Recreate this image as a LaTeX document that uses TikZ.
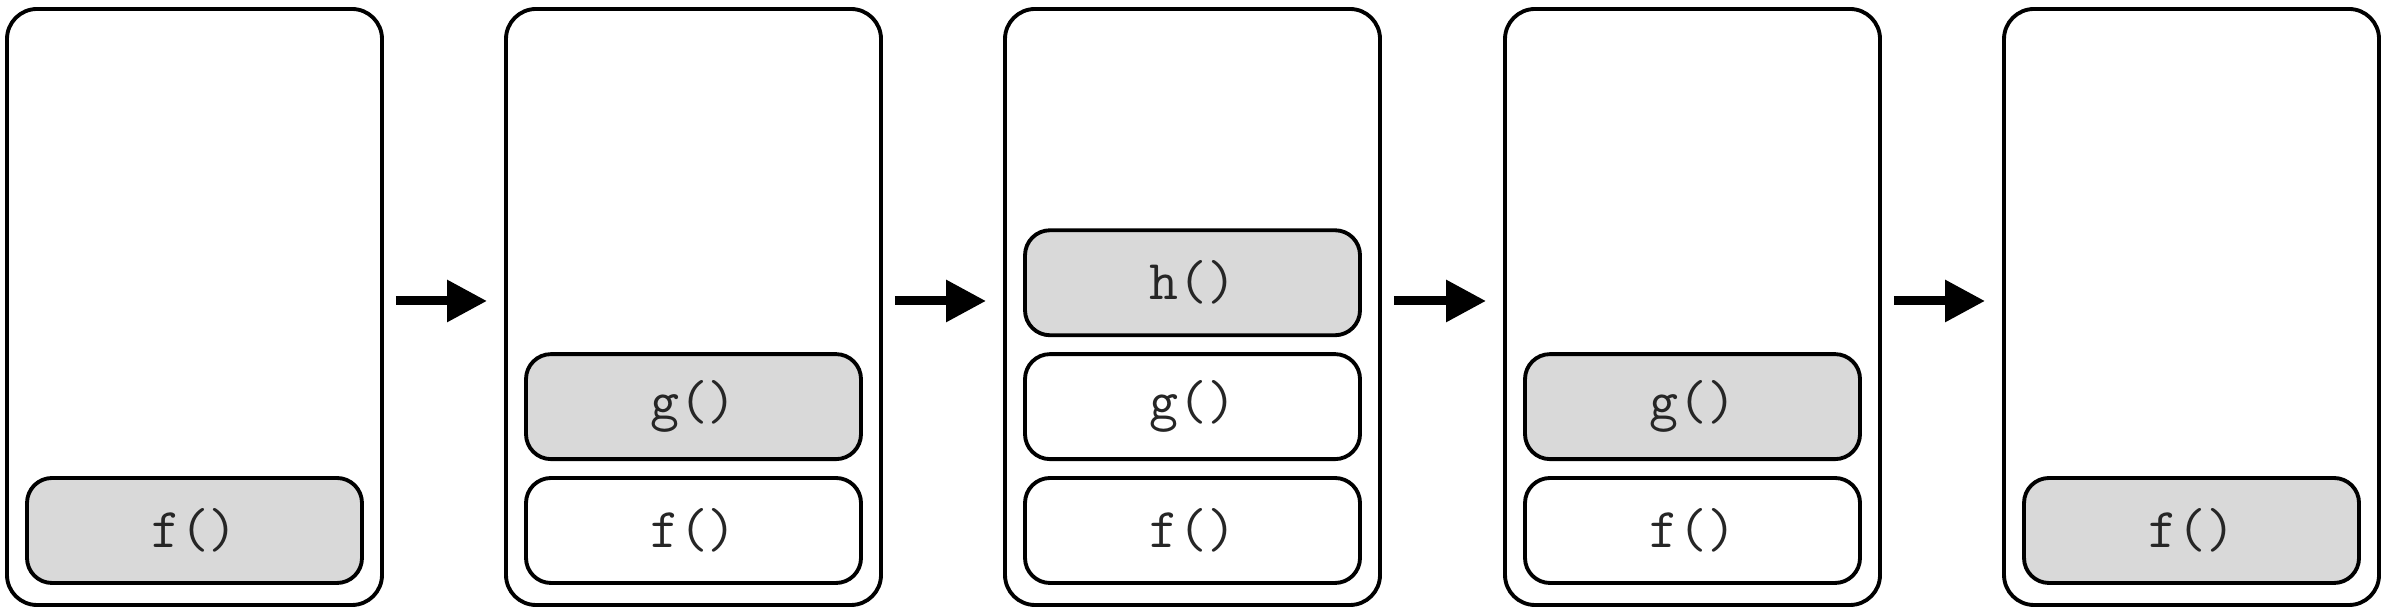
\documentclass[tikz,border=0pt]{standalone}
\usepackage{tikz}
\usetikzlibrary{positioning, arrows.meta}

\begin{document}
\begin{tikzpicture}[
    stack/.style={rectangle, draw, rounded corners=0.3cm, line width=1.1pt, minimum width=3.75cm, minimum height=5.96cm},
    call/.style={rectangle, draw, rounded corners=0.25cm, line width=1.1pt, minimum width=3.35cm, minimum height=1.05cm, text=black!85, font=\ttfamily\fontsize{16}{18}\selectfont},
    current/.style={fill=black!15},
    arrow/.style={-{Triangle[length=0.4cm, width=0.4cm]}, line width=0.09cm}
]
    \useasboundingbox (0, 0) rectangle (23.88, 6.16);

    % Call stack snapshots
    \node[stack] (s1) at (1.945, 3.09) {};
    \node[stack] (s2) at (6.935, 3.09) {};
    \node[stack] (s3) at (11.925, 3.09) {};
    \node[stack] (s4) at (16.925, 3.09) {};
    \node[stack] (s5) at (21.915, 3.09) {};

    % f() called
    \node[call, current, above=0.22cm of s1.south] (f1) {f()};

    % f() calls g()
    \node[call, above=0.22cm of s2.south] (f2) {f()};
    \node[call, current, above=0.15cm of f2] (g2) {g()};

    % g() calls h()
    \node[call, above=0.22cm of s3.south] (f3) {f()};
    \node[call, above=0.15cm of f3] (g3) {g()};
    \node[call, current, above=0.15cm of g3] (h3) {h()};

    % h() returns
    \node[call, above=0.22cm of s4.south] (f4) {f()};
    \node[call, current, above=0.15cm of f4] (g4) {g()};

    % g() returns
    \node[call, current, above=0.22cm of s5.south] (f5) {f()};

    \draw[arrow] ([xshift=0.12cm, yshift=0.06cm]s1.east) -- ([xshift=-0.17cm, yshift=0.06cm]s2.west);
    \draw[arrow] ([xshift=0.12cm, yshift=0.06cm]s2.east) -- ([xshift=-0.17cm, yshift=0.06cm]s3.west);
    \draw[arrow] ([xshift=0.12cm, yshift=0.06cm]s3.east) -- ([xshift=-0.17cm, yshift=0.06cm]s4.west);
    \draw[arrow] ([xshift=0.12cm, yshift=0.06cm]s4.east) -- ([xshift=-0.17cm, yshift=0.06cm]s5.west);
\end{tikzpicture}
\end{document}
